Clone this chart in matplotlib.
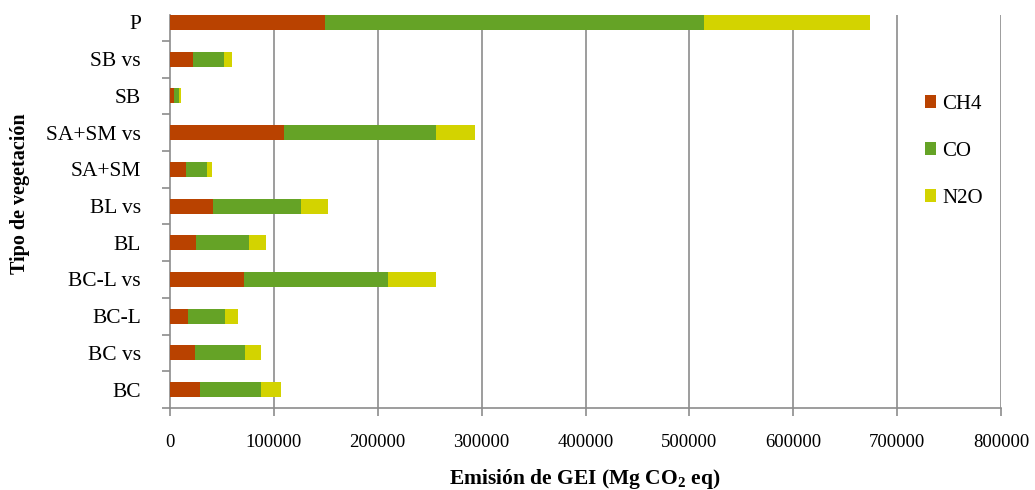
import matplotlib
matplotlib.use("Agg")
import matplotlib.pyplot as plt
import numpy as np

# Emisiones por tipo de vegetación (Mg CO2 eq)
categorias = ["BC", "BC vs", "BC-L", "BC-L vs", "BL", "BL vs",
              "SA+SM", "SA+SM vs", "SB", "SB vs", "P"]
ch4 = [28600, 24100, 17600, 71200, 25000, 41700, 15100, 109700, 4200, 22400, 149200]
co = [59000, 48100, 35600, 139000, 51300, 84100, 20200, 146100, 4800, 29600, 365100]
n2o = [19200, 15400, 11900, 45500, 15800, 26600, 5400, 37800, 1600, 8000, 159600]
xticks = [0, 100000, 200000, 300000, 400000, 500000, 600000, 700000, 800000]

plt.rcParams["font.family"] = ["Liberation Serif", "DejaVu Serif"]
plt.rcParams["mathtext.fontset"] = "custom"
plt.rcParams["mathtext.bf"] = "Liberation Serif:bold"
plt.rcParams["mathtext.rm"] = "Liberation Serif"

col_ch4 = "#B94200"
col_co = "#65A326"
col_n2o = "#D3D300"
gris = "#8C8C8C"

fig = plt.figure(figsize=(10.35, 4.9), dpi=100)
ax = fig.add_axes([170 / 1035, 82 / 490, 831 / 1035, 393 / 490])

y = np.arange(len(categorias))
h = 0.41
c1 = np.array(ch4)
c2 = np.array(co)
c3 = np.array(n2o)
ax.barh(y, c1, height=h, color=col_ch4, label="CH4", zorder=3)
ax.barh(y, c2, height=h, left=c1, color=col_co, label="CO", zorder=3)
ax.barh(y, c3, height=h, left=c1 + c2, color=col_n2o, label="N2O", zorder=3)

ax.set_xlim(0, 800000)
ax.set_ylim(-0.5, 10.204)

ax.set_xticks(xticks)
ax.set_xticklabels([str(v) for v in xticks], fontsize=13.5)
ax.set_yticks(y)
ax.set_yticklabels(categorias, fontsize=15.5)
ax.set_yticks(np.arange(-0.5, 10.5, 1.0), minor=True)
ax.tick_params(axis="y", which="major", length=0, pad=21)
ax.tick_params(axis="y", which="minor", length=6, color=gris, width=1.2)
ax.tick_params(axis="x", which="major", length=6, color=gris, width=1.2, pad=13)

for v in xticks[1:]:
    ax.axvline(v, color=gris, linewidth=1.2, zorder=1)

for s in ["top", "right"]:
    ax.spines[s].set_visible(False)
for s in ["left", "bottom"]:
    ax.spines[s].set_color(gris)
    ax.spines[s].set_linewidth(1.2)

fig.text(585 / 1035, 1 - 479 / 490, r"Emisión de GEI (Mg CO$_\mathbf{2}$ eq)",
         fontsize=15.5, fontweight="bold", ha="center", va="center")
fig.text(20 / 1035, 1 - 194 / 490, "Tipo de vegetación", rotation=90,
         fontsize=14.5, fontweight="bold", ha="center", va="center")

leg = ax.legend(loc="upper left", bbox_to_anchor=(906 / 1035, 1 - 76 / 490),
                bbox_transform=fig.transFigure, frameon=False, fontsize=15,
                handlelength=0.55, handleheight=0.55, handletextpad=0.3,
                labelspacing=1.35)

fig.savefig("out.png", dpi=100)
